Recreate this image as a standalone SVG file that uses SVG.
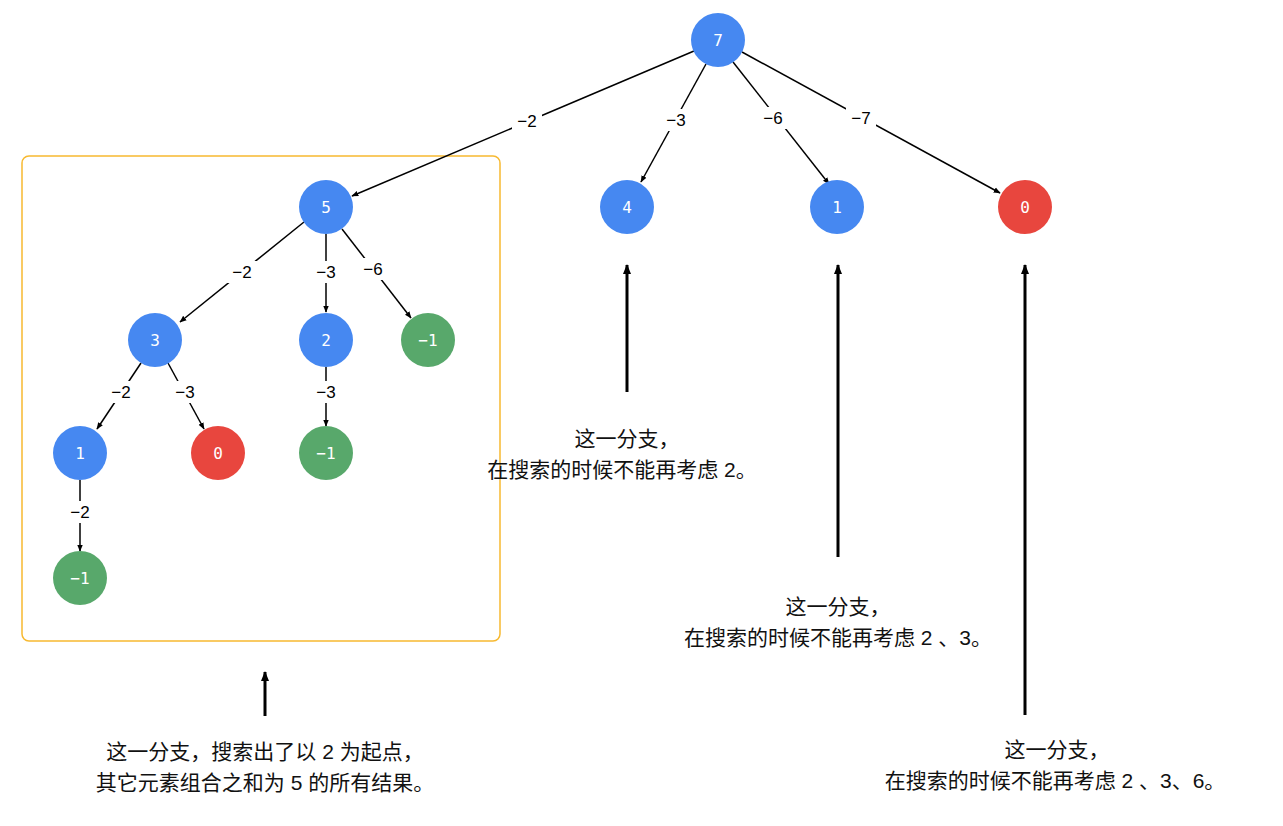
<svg xmlns="http://www.w3.org/2000/svg" width="1283" height="826" viewBox="0 0 1283 826">
<style>
.n{stroke:none}
.b{fill:#4688F1}.r{fill:#E8463E}.g{fill:#58A86B}
.nt{font-family:"DejaVu Sans Mono",monospace;font-size:16px;fill:#fff;text-anchor:middle;dominant-baseline:central}
.e{stroke:#000;stroke-width:1.5;fill:none;marker-end:url(#ah)}
.el{font-family:"Liberation Sans","DejaVu Sans",sans-serif;font-size:17px;fill:#000;text-anchor:middle;dominant-baseline:central}
.lb{fill:#fff}
.big{stroke:#000;stroke-width:3;fill:none;marker-end:url(#ah2)}
.t{font-family:"Liberation Sans","Noto Sans CJK SC",sans-serif;font-size:21px;fill:#111;text-anchor:middle}
</style>
<defs>
<marker id="ah" viewBox="0 0 10 10" refX="9" refY="5" markerWidth="7" markerHeight="7" orient="auto" markerUnits="userSpaceOnUse"><path d="M0,1 L10,5 L0,9 Z" fill="#000"/></marker>
<marker id="ah2" viewBox="0 0 10 10" refX="9" refY="5" markerWidth="10" markerHeight="10" orient="auto" markerUnits="userSpaceOnUse"><path d="M0,1 L10,5 L0,9 Z" fill="#000"/></marker>
</defs>
<rect x="22" y="156" width="478" height="485" rx="7" fill="none" stroke="#F7B930" stroke-width="1.5"/>
<g id="connectors">
<line class="e" x1="694" y1="51" x2="352" y2="196"/>
<line class="e" x1="706" y1="64" x2="641" y2="182"/>
<line class="e" x1="733" y1="62" x2="829" y2="184"/>
<line class="e" x1="742" y1="52" x2="1000" y2="193"/>
<line class="e" x1="304" y1="222" x2="180" y2="322"/>
<line class="e" x1="326" y1="234" x2="326" y2="312"/>
<line class="e" x1="342" y1="229" x2="411" y2="318"/>
<line class="e" x1="141" y1="363" x2="97" y2="429"/>
<line class="e" x1="168" y1="363" x2="204" y2="429"/>
<line class="e" x1="326" y1="367" x2="326" y2="426"/>
<line class="e" x1="80" y1="480" x2="80" y2="551"/>
<rect class="lb" x="512" y="110" width="30" height="22"/><text class="el" x="527" y="121">−2</text>
<rect class="lb" x="661" y="109" width="30" height="22"/><text class="el" x="676" y="120">−3</text>
<rect class="lb" x="758" y="107" width="30" height="22"/><text class="el" x="773" y="118">−6</text>
<rect class="lb" x="846" y="107" width="30" height="22"/><text class="el" x="861" y="118">−7</text>
<rect class="lb" x="227" y="261" width="30" height="22"/><text class="el" x="242" y="272">−2</text>
<rect class="lb" x="311" y="261" width="30" height="22"/><text class="el" x="326" y="272">−3</text>
<rect class="lb" x="358" y="258" width="30" height="22"/><text class="el" x="373" y="269">−6</text>
<rect class="lb" x="106" y="381" width="30" height="22"/><text class="el" x="121" y="392">−2</text>
<rect class="lb" x="170" y="381" width="30" height="22"/><text class="el" x="185" y="392">−3</text>
<rect class="lb" x="311" y="381" width="30" height="22"/><text class="el" x="326" y="392">−3</text>
<rect class="lb" x="65" y="501" width="30" height="22"/><text class="el" x="80" y="512">−2</text>
<line class="big" x1="627" y1="392" x2="627" y2="265"/>
<line class="big" x1="838" y1="557" x2="838" y2="265"/>
<line class="big" x1="1025" y1="715" x2="1025" y2="265"/>
<line class="big" x1="265" y1="716" x2="265" y2="672"/>
</g>
<g id="n7"><circle class="b" cx="718" cy="40" r="27"/><text class="nt" x="718" y="40">7</text></g>
<g id="n5"><circle class="b" cx="326" cy="207" r="27"/><text class="nt" x="326" y="207">5</text></g>
<g id="n4"><circle class="b" cx="627" cy="207" r="27"/><text class="nt" x="627" y="207">4</text></g>
<g id="n1a"><circle class="b" cx="837" cy="207" r="27"/><text class="nt" x="837" y="207">1</text></g>
<g id="n0a"><circle class="r" cx="1025" cy="207" r="27"/><text class="nt" x="1025" y="207">0</text></g>
<g id="n3"><circle class="b" cx="155" cy="340" r="27"/><text class="nt" x="155" y="340">3</text></g>
<g id="n2"><circle class="b" cx="326" cy="340" r="27"/><text class="nt" x="326" y="340">2</text></g>
<g id="nm1a"><circle class="g" cx="428" cy="340" r="27"/><text class="nt" x="428" y="340">−1</text></g>
<g id="n1b"><circle class="b" cx="80" cy="453" r="27"/><text class="nt" x="80" y="453">1</text></g>
<g id="n0b"><circle class="r" cx="218" cy="453" r="27"/><text class="nt" x="218" y="453">0</text></g>
<g id="nm1b"><circle class="g" cx="326" cy="453" r="27"/><text class="nt" x="326" y="453">−1</text></g>
<g id="nm1c"><circle class="g" cx="80" cy="578" r="27"/><text class="nt" x="80" y="578">−1</text></g>
<g id="note1"><text class="t" x="627" y="446">这一分支，</text><text class="t" x="622" y="477">在搜索的时候不能再考虑 2。</text></g>
<g id="note2"><text class="t" x="838" y="614">这一分支，</text><text class="t" x="838" y="645">在搜索的时候不能再考虑 2 、3。</text></g>
<g id="note3"><text class="t" x="1057" y="757">这一分支，</text><text class="t" x="1055" y="788">在搜索的时候不能再考虑 2 、3、6。</text></g>
<g id="note4"><text class="t" x="265" y="759">这一分支，搜索出了以 2 为起点，</text><text class="t" x="265" y="790">其它元素组合之和为 5 的所有结果。</text></g>
</svg>
